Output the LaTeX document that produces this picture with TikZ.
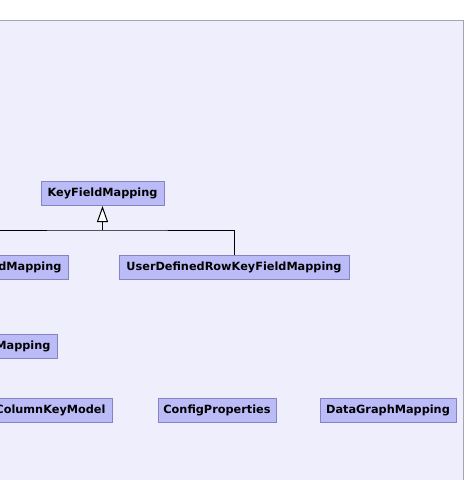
\documentclass[tikz,border=0pt]{standalone}
\usepackage{fontspec}
\setmainfont{DejaVu Sans}
\usetikzlibrary{arrows.meta}

\definecolor{panelfill}{HTML}{EEEEFC}
\definecolor{panelline}{HTML}{A4A4B4}
\definecolor{classfill}{HTML}{BBBBF8}
\definecolor{classline}{HTML}{8484C4}

\begin{document}
\begin{tikzpicture}[x=1pt,y=-1pt,
  classbox/.style={draw=classline,fill=classfill,line width=1pt,inner sep=0pt,
    minimum height=24pt,font=\fontsize{11.3}{14}\selectfont\bfseries},
  cutbox/.style={classbox,anchor=east,text width=120pt,align=right,inner xsep=7pt},
  inherit/.style={-{Triangle[open,length=16pt,width=11pt,fill=white]},line width=1pt}]
\useasboundingbox (0,0) rectangle (466,480);
\clip (0,0) rectangle (466,480);
% panel
\draw[panelline,fill=panelfill,line width=1pt] (-10,20) rectangle (463,490);

% classes
\node[classbox,minimum width=123pt] (keyfield) at (102.5,193.5) {KeyFieldMapping};
\node[classbox,minimum width=230pt] (userrow) at (234,267) {UserDefinedRowKeyFieldMapping};
\node[cutbox] (colfield) at (69,267) {dMapping};
\node[cutbox] (other) at (58,346) {Mapping};
\node[cutbox] (colkey) at (113,410.5) {ColumnKeyModel};
\node[classbox,minimum width=118pt] (config) at (217,410.5) {ConfigProperties};
\node[classbox,minimum width=136pt] (datagraph) at (388,410.5) {DataGraphMapping};

% generalisation
\coordinate (split) at (102.5,230);
\coordinate (leftend) at (-10,230);
\draw[inherit] (split) -- (keyfield);
\draw[line width=1pt] (leftend) -- (split) -| (userrow.north);

\end{tikzpicture}
\end{document}
